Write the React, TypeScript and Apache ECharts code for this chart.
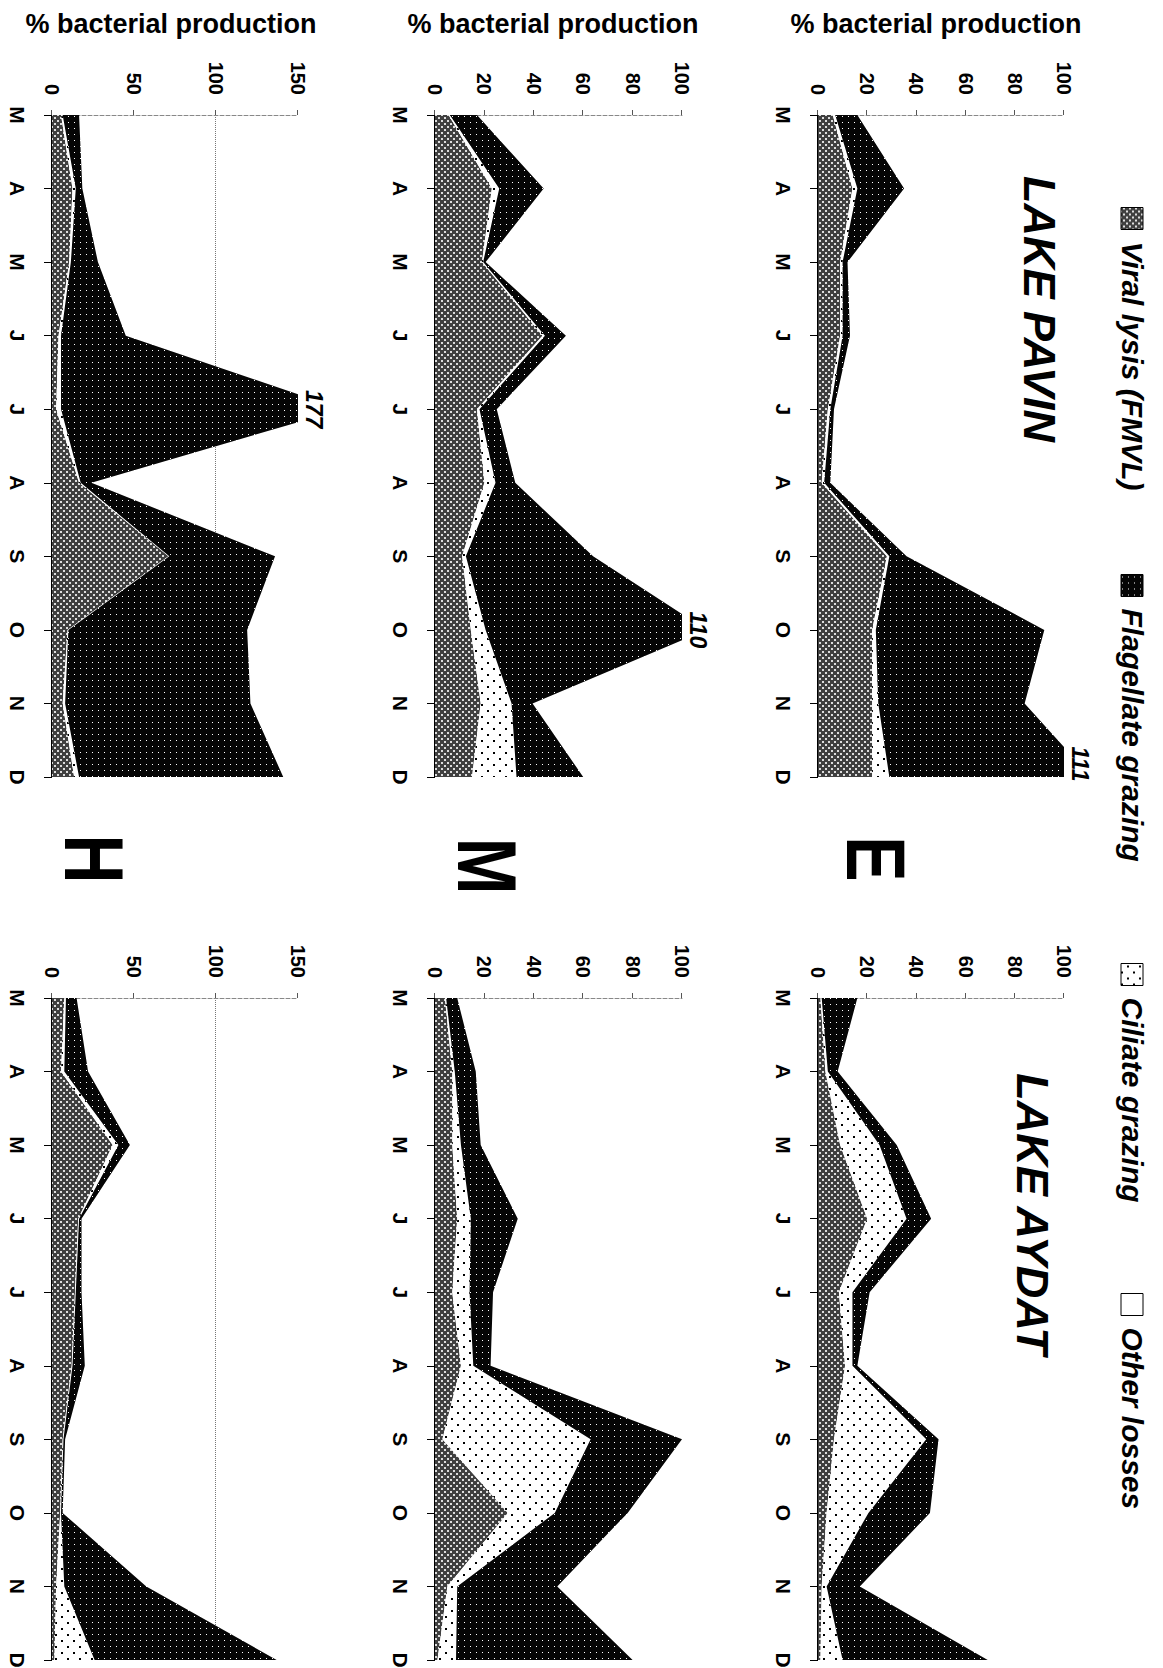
import React, { useEffect, useRef } from "react";
import * as echarts from "echarts";

// ---------- labels ----------
const months = ["M", "A", "M", "J", "J", "A", "S", "O", "N", "D"];
const legendNames = ["Viral lysis (FMVL)", "Flagellate grazing", "Ciliate grazing", "Other losses"];
const lakeTitles = ["LAKE PAVIN", "LAKE AYDAT"];
const rowLetters = ["E", "M", "H"];
const axisName = "% bacterial production";
const rowMax = [100, 100, 150];
const rowInterval = [20, 20, 50];

// ---------- data: Lake Pavin ----------
const pavinEViral = [6, 14, 9, 9, 4, 1.5, 28, 22, 22, 22];
const pavinECiliate = [1, 2, 1, 1, 1, 1, 1, 1.5, 2.5, 7];
const pavinEFlagellate = [9, 19, 2, 3, 1.5, 2.5, 7, 68.5, 59.5, 82];

const pavinMViral = [5.5, 23, 19, 43.5, 17, 20, 11, 14.5, 18.5, 15];
const pavinMCiliate = [0.5, 3, 0.5, 1, 1, 4.5, 1.5, 6, 12.5, 18];
const pavinMFlagellate = [11, 18, 1, 8.5, 7, 8, 51.5, 89.5, 8.5, 27];

const pavinHViral = [5.5, 12.5, 10.5, 4, 2.5, 16.5, 71, 9.5, 6.5, 13.5];
const pavinHCiliate = [1, 2, 1, 1.5, 3, 1, 0.5, 0.5, 1.5, 3];
const pavinHFlagellate = [10, 4, 16.5, 39.5, 171.5, 6.5, 64.5, 109, 113, 124.5];

// ---------- data: Lake Aydat ----------
const aydatEViral = [1, 3, 9, 20, 8.5, 11, 6.5, 3.5, 1.5, 1];
const aydatECiliate = [0.5, 1, 16, 16, 5.5, 3, 37.5, 17, 2, 9];
const aydatEFlagellate = [14.5, 4, 7, 10, 7, 2, 5, 25, 13.5, 59];

const aydatMViral = [4, 7, 7, 9, 7, 10.5, 3, 29.5, 5, 1];
const aydatMCiliate = [0.5, 1, 3.5, 5.5, 7, 5, 60, 19, 4, 7.5];
const aydatMFlagellate = [4.5, 8.5, 8, 19, 9.5, 7, 37, 29.5, 40.5, 71.5];

const aydatHViral = [7.5, 5.5, 37, 16, 14, 12, 6.5, 5, 2.5, 1.5];
const aydatHCiliate = [1, 2, 3.5, 0.5, 0.5, 0.5, 0.5, 0.5, 5, 24.5];
const aydatHFlagellate = [6.5, 14.5, 7, 1.5, 3.5, 7.5, 1, 1, 50, 111];

const panels = [
  { lake: 0, row: 0, viral: pavinEViral, ciliate: pavinECiliate, flag: pavinEFlagellate },
  { lake: 0, row: 1, viral: pavinMViral, ciliate: pavinMCiliate, flag: pavinMFlagellate },
  { lake: 0, row: 2, viral: pavinHViral, ciliate: pavinHCiliate, flag: pavinHFlagellate },
  { lake: 1, row: 0, viral: aydatEViral, ciliate: aydatECiliate, flag: aydatEFlagellate },
  { lake: 1, row: 1, viral: aydatMViral, ciliate: aydatMCiliate, flag: aydatMFlagellate },
  { lake: 1, row: 2, viral: aydatHViral, ciliate: aydatHCiliate, flag: aydatHFlagellate },
];

// ---------- layout (unrotated frame 1668 x 1163) ----------
const FONT = "'Liberation Sans', Arial, Helvetica, sans-serif";
const colLeft = [115, 998];
const colWidth = 662;
const rowTop = [99, 481, 865];
const rowHeight = [246, 247, 246];

function makeTile(kind: string) {
  const c = document.createElement("canvas");
  let size = 6;
  if (kind === "viral") {
    size = 6;
    c.width = size; c.height = size;
    const g = c.getContext("2d")!;
    g.fillStyle = "#404040"; g.fillRect(0, 0, size, size);
    g.fillStyle = "#dedede"; g.fillRect(0, 0, 2, 2); g.fillRect(3, 3, 2, 2);
  } else if (kind === "flag") {
    size = 6;
    c.width = size; c.height = size;
    const g = c.getContext("2d")!;
    g.fillStyle = "#050505"; g.fillRect(0, 0, size, size);
    g.fillStyle = "#ffffff"; g.fillRect(2, 2, 1, 1);
  } else {
    size = 12;
    c.width = size; c.height = size;
    const g = c.getContext("2d")!;
    g.fillStyle = "#ffffff"; g.fillRect(0, 0, size, size);
    g.fillStyle = "#000000"; g.fillRect(2, 2, 2, 2); g.fillRect(8, 8, 2, 2);
  }
  return { image: c, repeat: "repeat", imageWidth: size, imageHeight: size } as any;
}

export default function App() {
  const ref = useRef<HTMLDivElement>(null);

  useEffect(() => {
    if (!ref.current) return;
    const chart = echarts.init(ref.current, null, { renderer: "svg" });
    const viralPat = makeTile("viral");
    const flagPat = makeTile("flag");
    const ciliPat = makeTile("cili");

    const grids: any[] = [];
    const xAxes: any[] = [];
    const yAxes: any[] = [];
    const series: any[] = [];

    panels.forEach((p, i) => {
      grids.push({
        left: colLeft[p.lake], top: rowTop[p.row], width: colWidth, height: rowHeight[p.row],
        containLabel: false, outerBoundsMode: "none",
      });
      xAxes.push({
        gridIndex: i, type: "category", data: months, boundaryGap: false,
        axisLine: { show: true, lineStyle: { color: "#000", width: 1 } },
        axisTick: { show: true, length: 8, interval: 0, lineStyle: { color: "#000" } },
        axisLabel: { interval: 0, fontSize: 21, fontWeight: "bold", color: "#000", margin: 24, fontFamily: FONT },
        splitLine: { show: false },
      });
      yAxes.push({
        gridIndex: i, type: "value", min: 0, max: rowMax[p.row], interval: rowInterval[p.row],
        axisLine: { show: true, lineStyle: { color: "#888", width: 1, type: "dashed" } },
        axisTick: { show: true, length: 5, lineStyle: { color: "#555" } },
        axisLabel: { fontSize: 20, fontWeight: "bold", color: "#000", margin: 20, fontFamily: FONT },
        splitLine: p.row === 2
          ? { show: true, lineStyle: { color: ["rgba(0,0,0,0)", "rgba(0,0,0,0)", "#777"], type: "dotted", width: 1 } }
          : { show: false },
      });
      const base = {
        type: "line", xAxisIndex: i, yAxisIndex: i, stack: "s" + i,
        symbol: "none", showSymbol: false, silent: true, clip: true,
        lineStyle: { width: 0 }, emphasis: { disabled: true },
      };
      const max = rowMax[p.row];
      const overflow = months
        .map((_, j) => ({ j, t: p.viral[j] + p.ciliate[j] + p.flag[j] }))
        .filter((d) => d.t > max)
        .map((d) => ({
          coord: [d.j, max], value: Math.round(d.t),
          label: { offset: d.j === months.length - 1 ? [-13, 0] : [0, 0] },
        }));
      series.push({ ...base, name: legendNames[0], data: p.viral, itemStyle: { color: "#777" }, areaStyle: { color: viralPat, opacity: 1 } });
      series.push({ ...base, name: legendNames[2], data: p.ciliate, itemStyle: { color: "#fff" }, areaStyle: { color: ciliPat, opacity: 1 } });
      series.push({
        ...base, name: legendNames[1], data: p.flag, itemStyle: { color: "#000" }, areaStyle: { color: flagPat, opacity: 1 },
        markPoint: {
          symbol: "circle", symbolSize: 0, silent: true,
          label: { show: true, position: "top", distance: 4, formatter: "{c}", fontSize: 23, fontWeight: "bold", fontStyle: "italic", color: "#000", fontFamily: FONT },
          data: overflow,
        },
      });
    });
    series.push({ type: "line", name: legendNames[3], data: [], xAxisIndex: 0, yAxisIndex: 0, silent: true });

    const legendStyles = [
      { color: viralPat, borderColor: "#000", borderWidth: 1 },
      { color: flagPat, borderColor: "#000", borderWidth: 1 },
      { color: ciliPat, borderColor: "#000", borderWidth: 1 },
      { color: "#fff", borderColor: "#000", borderWidth: 1 },
    ];
    const legendLeft = [207, 574, 963, 1293];
    const legends = legendNames.map((name, k) => ({
      data: [{ name, itemStyle: legendStyles[k] }],
      left: legendLeft[k], top: 16, padding: 0, orient: "horizontal",
      icon: "rect", itemWidth: 22, itemHeight: 22, selectedMode: false,
      textStyle: { fontSize: 30, fontWeight: "bold", fontStyle: "italic", color: "#000", fontFamily: FONT, padding: [0, 0, 0, 7] },
    }));

    const graphics: any[] = [];
    const nameY = [227, 610, 992];
    nameY.forEach((y) => {
      graphics.push({
        type: "text", x: 24, y, rotation: Math.PI / 2, silent: true,
        style: { text: axisName, align: "center", verticalAlign: "middle", font: `bold 27px ${FONT}`, fill: "#000" },
      });
    });
    const titlePos = [[309, 124], [1214, 131]];
    lakeTitles.forEach((t, k) => {
      graphics.push({
        type: "text", x: titlePos[k][0], y: titlePos[k][1], silent: true,
        style: { text: t, align: "center", verticalAlign: "middle", font: `italic bold 45px ${FONT}`, fill: "#000" },
      });
    });
    const letterPos = [[859, 287], [866, 676], [859, 1069]];
    rowLetters.forEach((t, k) => {
      graphics.push({
        type: "text", x: letterPos[k][0], y: letterPos[k][1], scaleX: 0.81, silent: true,
        style: { text: t, align: "center", verticalAlign: "middle", font: `bold 84px ${FONT}`, fill: "#000" },
      });
    });

    chart.setOption({
      animation: false,
      backgroundColor: "#fff",
      grid: grids,
      xAxis: xAxes,
      yAxis: yAxes,
      legend: legends,
      series,
      graphic: graphics,
    });
    return () => chart.dispose();
  }, []);

  return (
    <div style={{ position: "absolute", left: 0, top: 0, width: 1163, height: 1668, overflow: "hidden", background: "#fff" }}>
      <div
        ref={ref}
        style={{
          position: "absolute", left: 0, top: 0, width: 1668, height: 1163,
          transformOrigin: "0 0", transform: "translateX(1163px) rotate(90deg)",
        }}
      />
    </div>
  );
}
